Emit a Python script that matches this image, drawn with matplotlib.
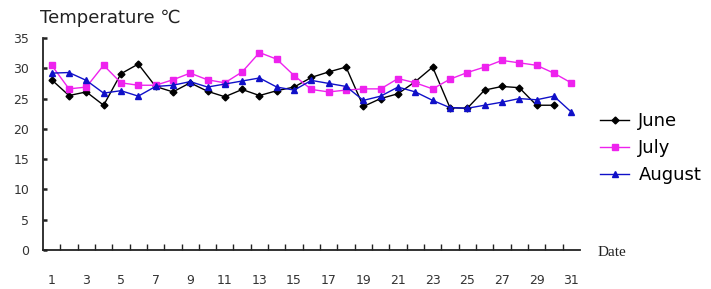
import matplotlib
matplotlib.use("Agg")
import matplotlib.pyplot as plt
import numpy as np

days_june = list(range(1, 31))
days_jul_aug = list(range(1, 32))

june = [28.1, 25.5, 26.1, 23.9, 29.1, 30.7, 27.0, 26.1, 27.6, 26.2,
        25.3, 26.5, 25.5, 26.3, 26.9, 28.5, 29.4, 30.2, 23.7, 25.0,
        25.8, 27.8, 30.2, 23.5, 23.4, 26.4, 27.0, 26.8, 23.9, 23.9]
july = [30.5, 26.6, 26.9, 30.5, 27.6, 27.2, 27.2, 28.1, 29.2, 28.1,
        27.6, 29.4, 32.6, 31.5, 28.8, 26.5, 26.1, 26.4, 26.6, 26.6,
        28.3, 27.6, 26.6, 28.2, 29.3, 30.2, 31.3, 30.9, 30.5, 29.2, 27.6]
august = [29.2, 29.3, 28.0, 25.9, 26.3, 25.4, 27.0, 27.2, 27.8, 26.9,
          27.4, 27.9, 28.4, 26.9, 26.4, 28.0, 27.5, 27.0, 24.7, 25.4,
          26.9, 26.1, 24.7, 23.5, 23.4, 23.9, 24.4, 25.0, 24.8, 25.4, 22.8]

xtick_vals = list(range(1, 32, 2))
ytick_vals = list(range(0, 36, 5))

plt.rcParams['font.family'] = ['DejaVu Sans', 'Noto Sans CJK SC']

fig = plt.figure(figsize=(7.11, 2.89), dpi=100)
ax = fig.add_axes([0.0605, 0.135, 0.755, 0.7335])

ax.plot(days_june, june, color='black', marker='D', markersize=3.5, lw=1.0, label='June')
ax.plot(days_jul_aug, july, color='#EE22EE', marker='s', markersize=5, lw=1.0, label='July')
ax.plot(days_jul_aug, august, color='#1010C8', marker='^', markersize=5, lw=1.0, label='August')

ax.set_xlim(0.5, 31.5)
ax.set_ylim(0, 35)

for s in ['top', 'right']:
    ax.spines[s].set_visible(False)
for s in ['left', 'bottom']:
    ax.spines[s].set_linewidth(1.3)
    ax.spines[s].set_color('#222222')

ax.set_xticks(xtick_vals)
ax.set_xticklabels([str(v) for v in xtick_vals], fontsize=9, color='#333333')
ax.set_xticks(np.arange(1.5, 31.5, 1.0), minor=True)
ax.tick_params(axis='x', which='major', length=0, pad=17)
ax.tick_params(axis='x', which='minor', direction='in', length=4, width=1.0, color='#222222')

ax.set_yticks(ytick_vals)
ax.set_yticklabels([str(v) for v in ytick_vals], fontsize=9, color='#333333')
ax.tick_params(axis='y', which='major', direction='in', length=3, width=1.8, color='#222222', pad=10)

fig.text(0.056, 0.905, 'Temperature ℃', fontsize=13, color='#222222', ha='left', va='bottom')
fig.text(0.84, 0.125, 'Date', fontsize=11, family='Liberation Serif', color='#222222', ha='left', va='center')

leg = ax.legend(loc='center left', bbox_to_anchor=(1.025, 0.48), frameon=False,
                fontsize=13, handlelength=1.6, handletextpad=0.5, labelspacing=0.5,
                borderaxespad=0)

fig.savefig('out.png', dpi=100)
